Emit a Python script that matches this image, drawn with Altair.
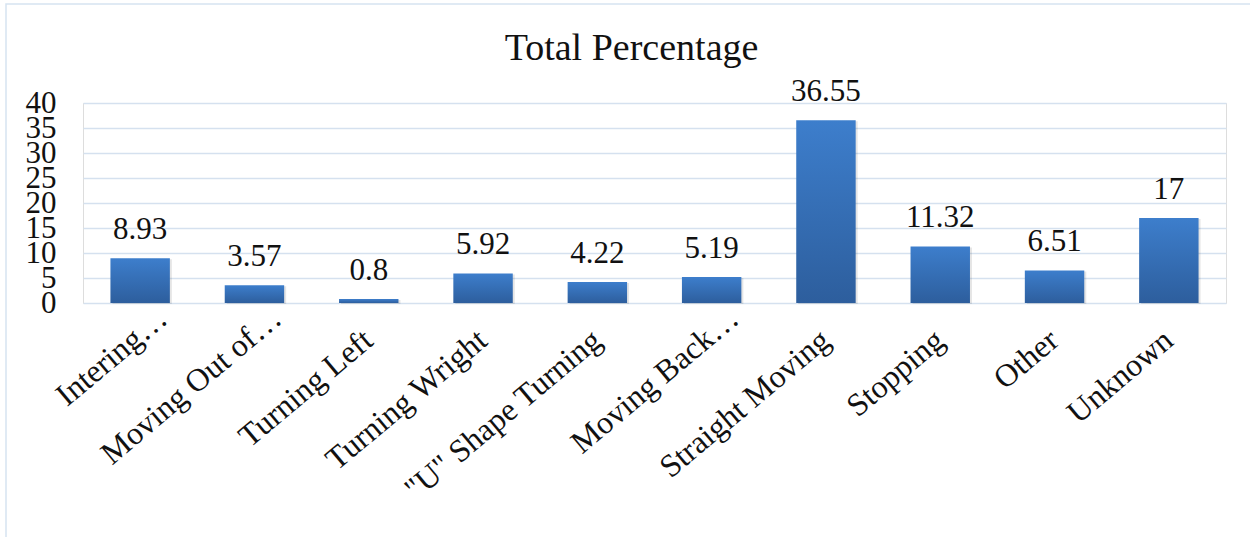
import altair as alt
import pandas as pd

# Share of each manoeuvre type (percent)
categories = [
    "Intering…",
    "Moving Out of…",
    "Turning Left",
    "Turning Wright",
    "\"U\" Shape Turning",
    "Moving Back…",
    "Straight Moving",
    "Stopping",
    "Other",
    "Unknown",
]
percentages = [8.93, 3.57, 0.8, 5.92, 4.22, 5.19, 36.55, 11.32, 6.51, 17]
y_ticks = [0, 5, 10, 15, 20, 25, 30, 35, 40]

df = pd.DataFrame({"category": categories, "value": percentages})
df["label"] = [f"{v:g}" for v in percentages]

FONT = "Liberation Serif"
GRID = "#D5E1EF"
INK = "#111111"

# shortened names (ending in an ellipsis) sit a little further along their slant
is_short = "indexof(datum.value, '…') >= 0"

x_enc = alt.X(
    "category:N",
    sort=categories,
    title=None,
    scale=alt.Scale(paddingInner=0.48, paddingOuter=0.24),
    axis=alt.Axis(
        labelAngle=-40,
        labelAlign="right",
        labelBaseline="top",
        labelFont=FONT,
        labelFontSize=32,
        labelColor=INK,
        labelPadding={"condition": {"test": is_short, "value": -1}, "value": 21},
        labelOffset={"condition": {"test": is_short, "value": 13}, "value": -10},
        labelLimit=400,
        labelOverlap=False,
        domain=False,
        ticks=False,
    ),
)
y_enc = alt.Y(
    "value:Q",
    title=None,
    scale=alt.Scale(domain=[0, 40], nice=False),
    axis=alt.Axis(
        values=y_ticks,
        labelFont=FONT,
        labelFontSize=31,
        labelColor=INK,
        labelPadding=27,
        labelBaseline="middle",
        labelOverlap=False,
        domain=False,
        ticks=False,
        gridColor=GRID,
        gridWidth=1.6,
    ),
)

base = alt.Chart(df)

# faint drop shadow behind each bar
shadow = base.mark_bar(color="#000000", opacity=0.10, xOffset=2, yOffset=1).encode(
    x=x_enc, y=y_enc
)

bars = base.mark_bar(
    color=alt.Gradient(
        gradient="linear",
        stops=[
            alt.GradientStop(color="#3D7ECC", offset=0),
            alt.GradientStop(color="#2D5E9D", offset=1),
        ],
        x1=0, x2=0, y1=0, y2=1,
    )
).encode(x=x_enc, y=y_enc)

labels = base.mark_text(
    font=FONT, fontSize=31, color=INK, baseline="alphabetic", dy=-19
).encode(x=x_enc, y=y_enc, text="label:N")

# thin frame around the chart area (left and top edges fall inside the canvas)
frame = alt.Chart(alt.Data(values=[{}])).mark_rect(
    filled=False, stroke="#D6E3F1", strokeWidth=1.5
).encode(
    x=alt.value(-77), x2=alt.value(1190), y=alt.value(-99), y2=alt.value(460)
)

chart = (
    alt.layer(frame, shadow, bars, labels)
    .properties(
        width=1143,
        height=200,
        autosize=alt.AutoSizeParams(type="none"),
        padding={"left": 83, "top": 103, "right": 24, "bottom": 234},
        title=alt.TitleParams(
            "Total Percentage",
            font=FONT,
            fontSize=38,
            fontWeight="normal",
            color=INK,
            anchor="middle",
            frame="group",
            dx=-23,
            dy=69,
        ),
    )
    .configure_view(stroke=None)
    .configure(background="white")
)

chart.save("out.html", embed_options={"renderer": "svg", "actions": False})
